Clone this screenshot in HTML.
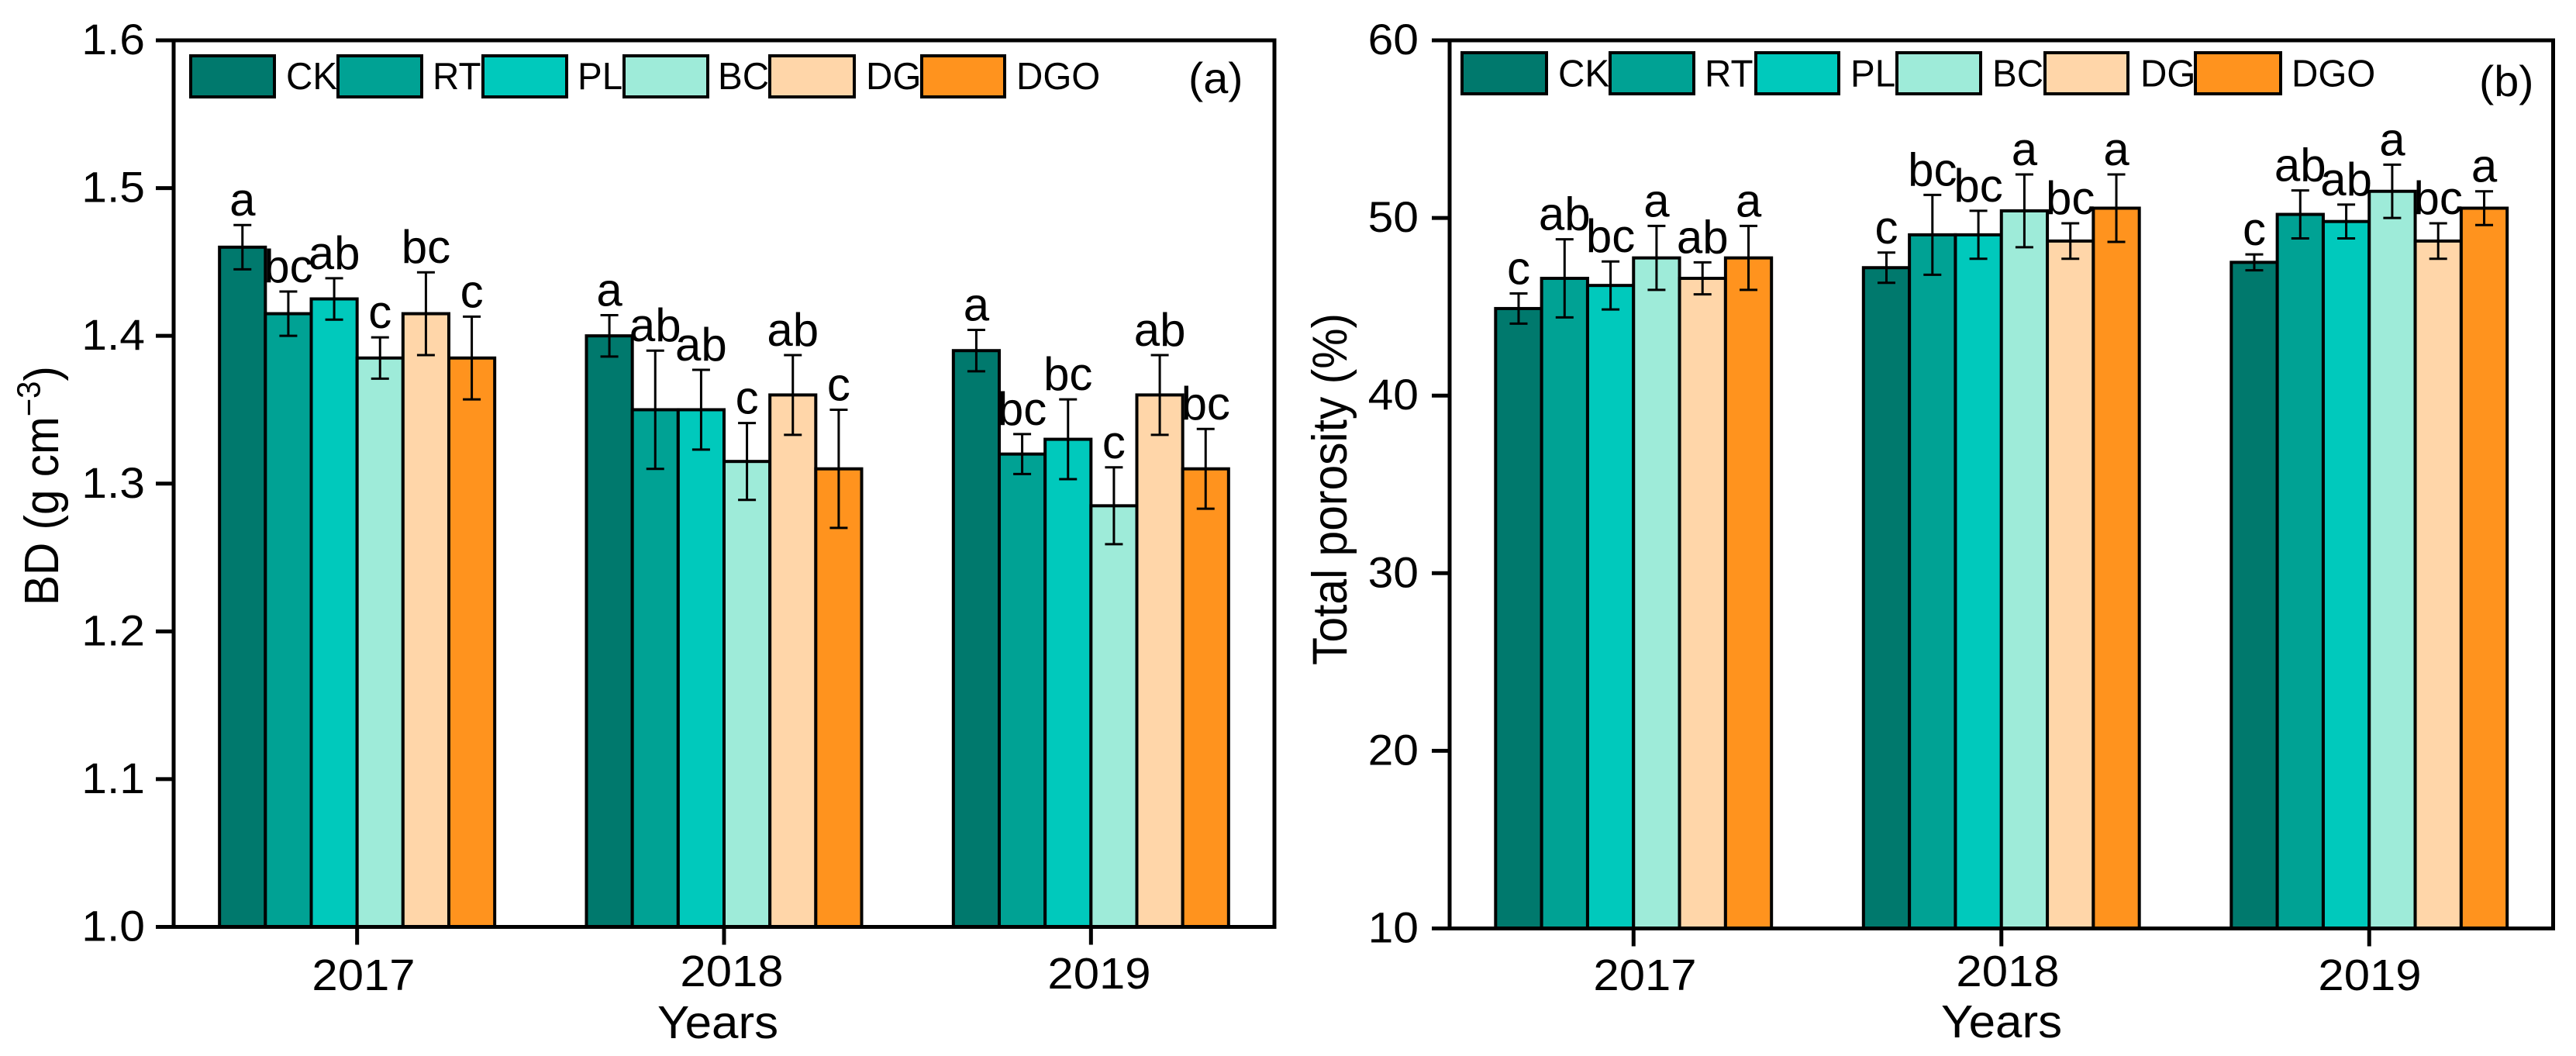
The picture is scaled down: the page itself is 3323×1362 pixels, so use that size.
<!DOCTYPE html>
<html lang="en">
<head>
<meta charset="utf-8">
<title>Bulk density and total porosity by year</title>
<style>
html,body{margin:0;padding:0;background:#fff;}
svg{display:block;}
text{font-family:"Liberation Sans",Arial,sans-serif;fill:#000;}
</style>
</head>
<body>
<svg id="figure" xmlns="http://www.w3.org/2000/svg" width="3323" height="1362" viewBox="0 0 3323 1362"></svg>
<script>
const categories = ['2017', '2018', '2019'];
const treatments = ['CK', 'RT', 'PL', 'BC', 'DG', 'DGO'];

const bdTickLabels = ['1.0', '1.1', '1.2', '1.3', '1.4', '1.5', '1.6'];
const bdMeans = [
  [1.46, 1.415, 1.425, 1.385, 1.415, 1.385],
  [1.40, 1.35, 1.35, 1.315, 1.36, 1.31],
  [1.39, 1.32, 1.33, 1.285, 1.36, 1.31]
];
const bdErrors = [
  [0.015, 0.015, 0.014, 0.014, 0.028, 0.028],
  [0.014, 0.04, 0.027, 0.026, 0.027, 0.04],
  [0.014, 0.0135, 0.027, 0.026, 0.027, 0.027]
];
const bdLetters = [
  ['a', 'bc', 'ab', 'c', 'bc', 'c'],
  ['a', 'ab', 'ab', 'c', 'ab', 'c'],
  ['a', 'bc', 'bc', 'c', 'ab', 'bc']
];

const porosityTickLabels = ['10', '20', '30', '40', '50', '60'];
const porosityMeans = [
  [44.9, 46.6, 46.2, 47.75, 46.6, 47.75],
  [47.2, 49.05, 49.05, 50.4, 48.7, 50.55],
  [47.5, 50.2, 49.8, 51.5, 48.7, 50.55]
];
const porosityErrors = [
  [0.85, 2.2, 1.35, 1.8, 0.9, 1.8],
  [0.85, 2.25, 1.35, 2.05, 1.0, 1.9],
  [0.45, 1.35, 0.95, 1.5, 1.0, 0.95]
];
const porosityLetters = [
  ['c', 'ab', 'bc', 'a', 'ab', 'a'],
  ['c', 'bc', 'bc', 'a', 'bc', 'a'],
  ['c', 'ab', 'ab', 'a', 'bc', 'a']
];

const fills = ['#00796D', '#00A294', '#00C9BC', '#9EEBD9', '#FFD6A9', '#FF931E'];

const NS = 'http://www.w3.org/2000/svg';
const STRETCH = 1.05;
const root = document.getElementById('figure');

function mk(tag, attrs, parent) {
  const el = document.createElementNS(NS, tag);
  Object.keys(attrs).forEach(function (k) { el.setAttribute(k, attrs[k]); });
  parent.appendChild(el);
  return el;
}

function label(parent, str, x, y, size, anchor, sx) {
  const el = mk('text', {
    transform: 'translate(' + x + ',' + y + ') scale(' + sx + ',1)',
    'font-size': size,
    'text-anchor': anchor
  }, parent);
  el.textContent = str;
  return el;
}

function drawPanel(p) {
  const g = mk('g', {}, root);
  
  

  const catW = (p.right - p.left) / categories.length;
  const barW = catW * 0.125;
  const xCenter = function (i) { return p.left + (i + 0.5) * catW; };
  const yScale = function (v) {
    return p.top + (p.yMax - v) / (p.yMax - p.yMin) * (p.bottom - p.top);
  };
  const tickValue = function (t) { return parseFloat(t); };

  // bars
  categories.forEach(function (cat, c) {
    treatments.forEach(function (tr, s) {
      const x = xCenter(c) - 3 * barW + s * barW;
      const y = yScale(p.means[c][s]);
      const bar = mk('rect', {
        x: x, y: y, width: barW, height: p.bottom - y,
        fill: fills[s], stroke: '#000', 'stroke-width': 4
      }, g);
      
      
    });
  });

  // error bars and significance letters
  categories.forEach(function (cat, c) {
    treatments.forEach(function (tr, s) {
      const cx = xCenter(c) - 3 * barW + (s + 0.5) * barW;
      const hi = yScale(p.means[c][s] + p.errors[c][s]);
      const lo = yScale(p.means[c][s] - p.errors[c][s]);
      const err = mk('path', {
        d: 'M' + cx + ' ' + hi + 'V' + lo +
           'M' + (cx - 11.5) + ' ' + hi + 'H' + (cx + 11.5) +
           'M' + (cx - 11.5) + ' ' + lo + 'H' + (cx + 11.5),
        fill: 'none', stroke: '#000', 'stroke-width': 3
      }, g);
      
      
      const letter = label(g, p.letters[c][s], cx, hi - 12, 60, 'middle', 1.0);
      
      
    });
  });

  // frame
  const frame = mk('rect', {
    x: p.left, y: p.top, width: p.right - p.left, height: p.bottom - p.top,
    fill: 'none', stroke: '#000', 'stroke-width': 5
  }, g);
  
  

  // y axis ticks and labels
  p.yTicks.forEach(function (t) {
    const y = yScale(tickValue(t));
    const tick = mk('line', {
      x1: p.left - 23, x2: p.left, y1: y, y2: y, stroke: '#000', 'stroke-width': 5
    }, g);
    
    
    const tl = label(g, t, p.yLabelRight, y + 18, 56, 'end', STRETCH);
    
    
  });

  // x axis ticks and labels
  categories.forEach(function (cat, c) {
    const x = xCenter(c);
    const tick = mk('line', {
      x1: x, x2: x, y1: p.bottom, y2: p.bottom + 23, stroke: '#000', 'stroke-width': 5
    }, g);
    
    
    const tl = label(g, cat, p.xLabelCenter[c], p.xLabelBase[c], 57, 'middle', STRETCH);
    
    
  });

  const xTitle = label(g, 'Years', p.xTitleX, p.xTitleY, 59, 'middle', 1.05);
  
  

  // legend
  treatments.forEach(function (tr, s) {
    const lg = mk('g', {}, g);
    
    
    const t = label(lg, tr, p.legendText[s], p.legendBase, 49, 'start', 0.97);
    
    
    const sw = mk('rect', {
      x: p.legendSwatch[s], y: p.legendTop,
      width: p.legendWidth[s], height: 53,
      fill: fills[s], stroke: '#000', 'stroke-width': 4
    }, lg);
    
    
  });

  const tag = label(g, p.tag, p.tagX, p.tagY, 56, 'start', 1.03);
  
  

  return g;
}

const panelA = drawPanel({
  id: 'panel-a-bulk-density',
  left: 224, right: 1644, top: 52, bottom: 1195.5,
  yMin: 1.0, yMax: 1.6, yTicks: bdTickLabels,
  means: bdMeans, errors: bdErrors, letters: bdLetters,
  yLabelRight: 187,
  xLabelCenter: [469, 944, 1418], xLabelBase: [1277, 1272, 1275],
  xTitleX: 926, xTitleY: 1339,
  legendSwatch: [246, 436, 623, 805, 993, 1189],
  legendWidth: [108, 108, 108, 108, 109, 107],
  legendText: [369, 558, 745, 926, 1117, 1311],
  legendTop: 72, legendBase: 115,
  tag: '(a)', tagX: 1533, tagY: 120
});

const panelB = drawPanel({
  id: 'panel-b-total-porosity',
  left: 1870, right: 3293.5, top: 52, bottom: 1197.5,
  yMin: 10, yMax: 60, yTicks: porosityTickLabels,
  means: porosityMeans, errors: porosityErrors, letters: porosityLetters,
  yLabelRight: 1830,
  xLabelCenter: [2122, 2590, 3057], xLabelBase: [1277, 1272, 1277],
  xTitleX: 2582, xTitleY: 1338,
  legendSwatch: [1886, 2077, 2265, 2447, 2638, 2832],
  legendWidth: [109, 108, 107, 108, 107, 110],
  legendText: [2010, 2199, 2387, 2570, 2761, 2956],
  legendTop: 68, legendBase: 111.5,
  tag: '(b)', tagX: 3198, tagY: 124
});

// y axis titles (rotated, with superscript in panel a)
const bdTitle = mk('text', {
  transform: 'translate(75,781) rotate(-90) scale(1,1.07)',
  'font-size': 58.5
}, panelA);


const t1 = mk('tspan', {}, bdTitle);
t1.textContent = 'BD (g cm';
const t2 = mk('tspan', { dy: -22, 'font-size': 40 }, bdTitle);
t2.textContent = '\u22123';
const t3 = mk('tspan', { dy: 22 }, bdTitle);
t3.textContent = ')';

const tpTitle = mk('text', {
  transform: 'translate(1737,858) rotate(-90) scale(1,1.07)',
  'font-size': 58.8
}, panelB);


tpTitle.textContent = 'Total porosity (%)';
</script>
</body>
</html>
